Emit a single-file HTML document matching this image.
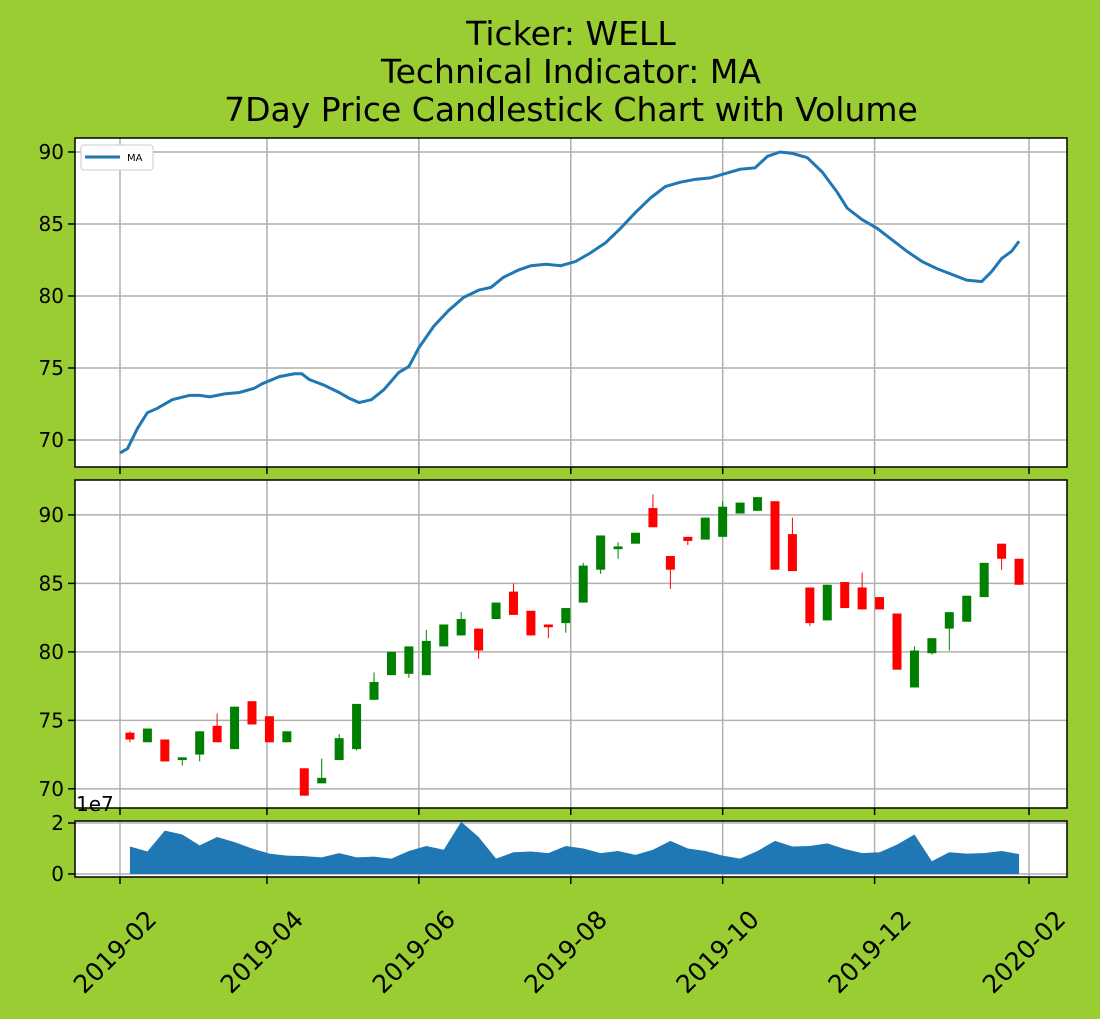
<!DOCTYPE html>
<html><head><meta charset="utf-8"><style>
html,body{margin:0;padding:0;background:#9acd32;}
svg{display:block;font-family:"DejaVu Sans","Liberation Sans",sans-serif;}
</style></head><body>
<svg id="chart" width="1100" height="1019" xmlns="http://www.w3.org/2000/svg">
<rect width="1100" height="1019" fill="#9acd32"/>
<g font-size="33" text-anchor="middle" fill="#000">
<text x="571" y="45">Ticker: WELL</text>
<text x="571" y="83">Technical Indicator: MA</text>
<text x="571" y="121">7Day Price Candlestick Chart with Volume</text>
</g>
<g id="g"></g>
</svg>
<script>
// MA: day offsets from 2019-02-01 and values
const maDays=[0,3,7,11,15,21,28,32,36,42,48,54,57,64,70,73,76,82,88,92,96,101,106,112,116,120,126,132,138,144,149,154,160,165,171,177,183,189,195,201,207,213,219,225,231,237,243,249,255,260,265,270,276,282,288,292,298,304,310,316,322,328,334,340,346,350,354,358,361];
const maVals=[69.1,69.4,70.8,71.9,72.2,72.8,73.1,73.1,73.0,73.2,73.3,73.6,73.9,74.4,74.6,74.6,74.2,73.8,73.3,72.9,72.6,72.8,73.5,74.7,75.1,76.4,77.9,79.0,79.9,80.4,80.6,81.3,81.8,82.1,82.2,82.1,82.4,83.0,83.7,84.7,85.8,86.8,87.6,87.9,88.1,88.2,88.5,88.8,88.9,89.7,90.0,89.9,89.6,88.6,87.2,86.1,85.3,84.7,83.9,83.1,82.4,81.9,81.5,81.1,81.0,81.7,82.6,83.1,83.8];
// Weekly candles
const opens=[74.1,73.4,73.6,72.1,72.5,74.6,72.9,76.4,75.3,73.4,71.5,70.4,72.1,72.9,76.5,78.3,78.4,78.3,80.4,81.2,81.7,82.4,84.4,83.0,82.0,82.1,83.6,86.0,87.5,87.9,90.5,87.0,88.4,88.2,88.4,90.1,90.3,91.0,88.6,84.7,82.3,85.1,84.7,84.0,82.8,77.4,79.9,81.7,82.2,84.0,87.9,86.8];
const closes=[73.6,74.4,72.0,72.3,74.2,73.4,76.0,74.7,73.4,74.2,69.5,70.8,73.7,76.2,77.8,80.0,80.4,80.8,82.0,82.4,80.1,83.6,82.7,81.2,81.8,83.2,86.3,88.5,87.7,88.7,89.1,86.0,88.1,89.8,90.6,90.9,91.3,86.0,85.9,82.1,84.9,83.2,83.1,83.1,78.7,80.1,81.0,82.9,84.1,86.5,86.8,84.9];
const highs=[74.2,74.4,73.6,72.3,74.2,75.5,76.0,76.4,75.3,74.2,71.5,72.2,74.0,76.2,78.5,80.0,80.4,81.6,82.0,82.9,81.7,83.6,85.0,83.0,82.0,83.2,86.5,88.5,88.0,88.7,91.5,87.0,88.4,89.8,91.0,90.9,91.3,91.0,89.8,84.7,84.9,85.1,85.8,84.0,82.8,80.4,81.0,82.9,84.1,86.5,87.9,86.8];
const lows=[73.4,73.4,72.0,71.7,72.0,73.4,72.9,74.7,73.4,73.4,69.5,70.4,72.1,72.8,76.5,78.3,78.1,78.3,80.4,81.2,79.5,82.4,82.7,81.2,81.0,81.4,83.6,85.7,86.8,87.9,89.1,84.6,87.8,88.2,88.4,90.1,90.3,86.0,85.9,81.9,82.3,83.2,83.1,83.1,78.7,77.4,79.8,80.1,82.2,84.0,86.0,84.9];
const volumes=[1.08,0.88,1.7,1.55,1.12,1.45,1.25,1.0,0.8,0.72,0.7,0.65,0.82,0.65,0.68,0.6,0.9,1.1,0.95,2.05,1.45,0.6,0.85,0.88,0.82,1.1,1.0,0.82,0.9,0.75,0.95,1.3,1.0,0.9,0.72,0.6,0.9,1.3,1.08,1.1,1.2,0.98,0.82,0.85,1.15,1.55,0.5,0.85,0.8,0.82,0.9,0.78];
const xTickDays=[0,59,120,181,242,303,365];
const xTickLabels=["2019-02","2019-04","2019-06","2019-08","2019-10","2019-12","2020-02"];
const maTicks=[70,75,80,85,90];
const priceTicks=[70,75,80,85,90];
const volTicks=[0,2];

const NS="http://www.w3.org/2000/svg";
const g=document.getElementById('g');
function mk(tag,attrs,parent){const e=document.createElementNS(NS,tag);for(const k in attrs)e.setAttribute(k,attrs[k]);(parent||g).appendChild(e);return e;}
const L=75,R=1067;
const xs=d=>120+d*(909/365);
const p1={t:138,b:467,min:68.125,max:90.97};
const p2={t:480,b:808,min:68.6,max:92.55};
const p3={t:821,b:877,min:-0.12,max:2.08};
const ys=(p,v)=>p.b-(v-p.min)/(p.max-p.min)*(p.b-p.t);
function panel(p,name,ticks){
  const bg=mk('rect',{x:L,y:p.t,width:R-L,height:p.b-p.t,fill:'#fff'});
  
  
  xTickDays.forEach(d=>{const l=mk('line',{x1:xs(d),x2:xs(d),y1:p.t,y2:p.b,stroke:'#b0b0b0','stroke-width':1.5});
    
    const tk=mk('line',{x1:xs(d),x2:xs(d),y1:p.b,y2:p.b+7,stroke:'#000','stroke-width':1.5});
    });
  ticks.forEach((v,i)=>{const y=ys(p,v);
    const l=mk('line',{x1:L,x2:R,y1:y,y2:y,stroke:'#b0b0b0','stroke-width':1.5});
    
    const tk=mk('line',{x1:L-7,x2:L,y1:y,y2:y,stroke:'#000','stroke-width':1.5});
    
    const t=mk('text',{x:L-11,y:y+7,'font-size':20,'text-anchor':'end'});t.textContent=v;
    });
}
function frame(p,name){const f=mk('rect',{x:L,y:p.t,width:R-L,height:p.b-p.t,fill:'none',stroke:'#000','stroke-width':1.5});
  }

// Panel 1: MA
panel(p1,'ma-panel',maTicks);
const ma=mk('polyline',{points:maDays.map((d,i)=>xs(d)+','+ys(p1,maVals[i])).join(' '),fill:'none',stroke:'#1f77b4','stroke-width':3});

frame(p1,'ma-panel');
const lg=mk('g',{});

mk('rect',{x:81,y:145,width:72,height:25,rx:3,fill:'#fff',stroke:'#ccc'},lg);
mk('line',{x1:85,x2:120,y1:157,y2:157,stroke:'#1f77b4','stroke-width':3},lg);
const lt=mk('text',{x:127,y:161,'font-size':10},lg);lt.textContent='MA';

// Panel 2: candles
panel(p2,'price-panel',priceTicks);
opens.forEach((o,i)=>{const c=closes[i];const d=4+i*7;const x=xs(d);const col=c>=o?'#008000':'#ff0000';
  const w=mk('line',{x1:x,x2:x,y1:ys(p2,highs[i]),y2:ys(p2,lows[i]),stroke:col,'stroke-width':1});
  
  const top=ys(p2,Math.max(o,c)),bot=ys(p2,Math.min(o,c));
  const b=mk('rect',{x:x-4.5,y:top,width:9,height:Math.max(1,bot-top),fill:col});
  });
frame(p2,'price-panel');
const e7=mk('text',{x:76,y:811,'font-size':20});e7.textContent='1e7';


// Panel 3: volume
panel(p3,'volume-panel',volTicks);
let pts=volumes.map((v,i)=>xs(4+i*7)+','+ys(p3,v));
pts.push(xs(4+(volumes.length-1)*7)+','+ys(p3,0));pts.push(xs(4)+','+ys(p3,0));
const va=mk('polygon',{points:pts.join(' '),fill:'#1f77b4'});

frame(p3,'volume-panel');

// x tick labels
xTickDays.forEach((d,i)=>{const x=xs(d)+38, y=p3.b+44;const t=mk('text',{x:x,y:y,'font-size':25,'text-anchor':'end',transform:'rotate(-45 '+x+' '+y+')'});
  t.textContent=xTickLabels[i];
  });
</script>
</body></html>
